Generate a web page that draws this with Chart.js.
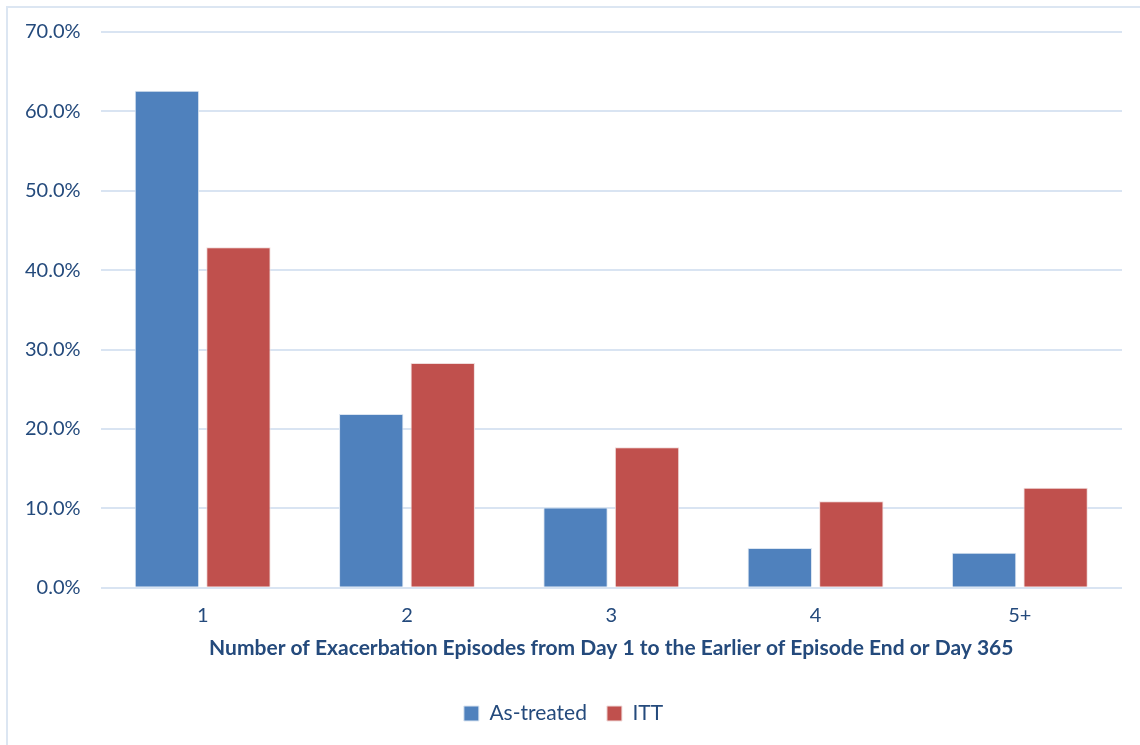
<!DOCTYPE html>
<html>
<head>
<meta charset="utf-8">
<script src="https://cdn.jsdelivr.net/npm/chart.js@4.4.1/dist/chart.umd.min.js"></script>
<style>
  body { margin: 0; background: #fff; }
  #frame { position: absolute; left: 6px; top: 6px; width: 1200px; height: 800px;
           border-left: 2px solid #dce6f2; border-top: 2px solid #dce6f2; }
  #wrap { position: absolute; left: 0; top: 0; width: 1140px; height: 745px; }
</style>
</head>
<body>
<div id="frame"></div>
<div id="wrap"><canvas id="chart"></canvas></div>
<script>
'use strict';

let episodes = ['1', '2', '3', '4', '5+'];
let asTreated = [62.6, 21.9, 10.1, 5.0, 4.4];
let itt = [42.9, 28.3, 17.7, 10.9, 12.6];
let yTicks = [0, 10, 20, 30, 40, 50, 60, 70];

let textBlue = '#244a7c';
let gridBlue = '#d9e4f2';

let canvasElem = document.getElementById('chart');

function renderChart() {
  let chartObj = {
    type: 'bar',
    data: {
      labels: episodes,
      datasets: [{
        label: 'As-treated',
        data: asTreated,
        backgroundColor: '#4f81bd',
        borderColor: '#dbe5f1',
        borderWidth: 1,
        categoryPercentage: 0.70,
        barPercentage: 0.9
      },
      {
        label: 'ITT',
        data: itt,
        backgroundColor: '#c0504d',
        borderColor: '#f0dcdb',
        borderWidth: 1,
        categoryPercentage: 0.70,
        barPercentage: 0.9
      }]
    },
    options: {
      responsive: true,
      maintainAspectRatio: false,
      animation: false,
      layout: { padding: { top: 29, right: 18, left: 5, bottom: 11 } },
      plugins: {
        tooltip: { enabled: false },
        legend: {
          position: 'bottom',
          labels: {
            color: textBlue,
            font: { family: 'Lato', size: 21 },
            boxWidth: 15,
            boxHeight: 15,
            padding: 20
          }
        }
      },
      scales: {
        x: {
          grid: { display: false },
          border: { display: false },
          ticks: { color: textBlue, font: { family: 'Lato', size: 20 }, padding: 8 },
          title: {
            display: true,
            text: 'Number of Exacerbation Episodes from Day 1 to the Earlier of Episode End or Day 365',
            color: textBlue,
            font: { family: 'Lato', size: 21, weight: 'bold' },
            padding: { top: 0, bottom: 22 }
          }
        },
        y: {
          min: 0,
          max: 70,
          afterBuildTicks: function (axis) {
            axis.ticks = yTicks.map(function (v) { return { value: v }; });
          },
          grid: { color: gridBlue, lineWidth: 2, drawTicks: false },
          border: { display: false },
          ticks: {
            color: textBlue,
            font: { family: 'Lato', size: 20 },
            padding: 20,
            callback: function (v) { return v.toFixed(1) + '%'; }
          }
        }
      }
    }
  };

  new Chart(canvasElem, chartObj);
}

renderChart();
</script>
</body>
</html>
